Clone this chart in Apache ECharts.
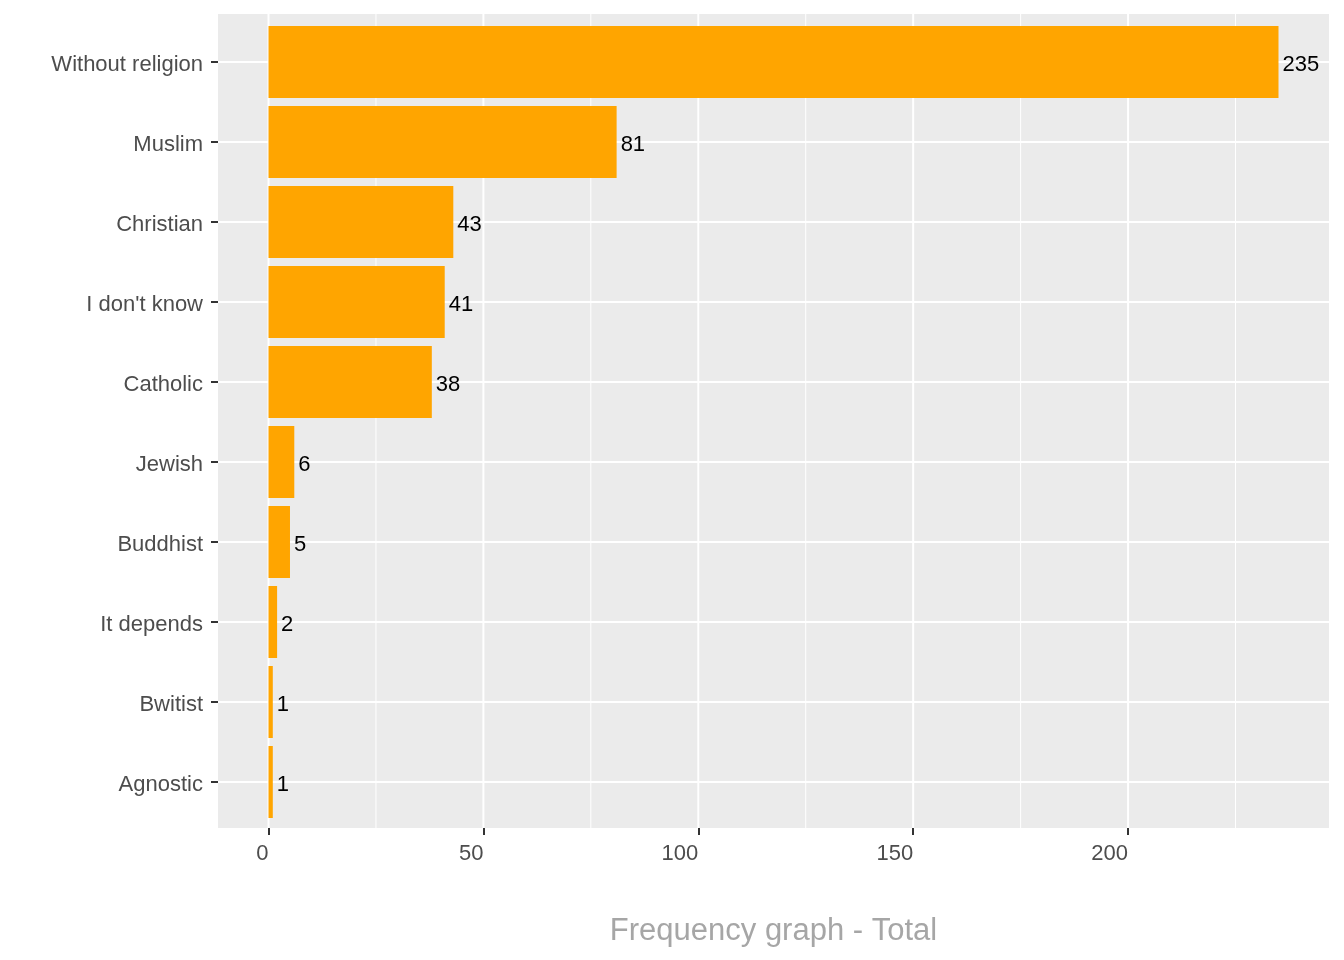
<!DOCTYPE html>
<html><head><meta charset="utf-8">
<script src="https://cdn.jsdelivr.net/npm/echarts@6/dist/echarts.min.js"></script>
<style>html,body{margin:0;padding:0;background:#fff}#c{width:1344px;height:960px}</style>
</head><body><div id="c"></div>
<script>
const categories = ['Without religion', 'Muslim', 'Christian', "I don't know", 'Catholic', 'Jewish', 'Buddhist', 'It depends', 'Bwitist', 'Agnostic'];
const counts = [235, 81, 43, 41, 38, 6, 5, 2, 1, 1];
const majorTicks = [0, 50, 100, 150, 200];
const minorTicks = [25, 75, 125, 175, 225];
const xTitle = 'Frequency graph - Total';

const maxVal = Math.max(...counts);
const xMin = -0.05 * maxVal, xMax = maxVal * 1.05;
const font = '"Liberation Sans", Arial, sans-serif';

const vLines = majorTicks.map(t => ({t, w: 2})).concat(minorTicks.map(t => ({t, w: 1}))).map(o => ({
  type: 'line', xAxisIndex: 0, yAxisIndex: 0, data: [[o.t, 0], [o.t, 1]], symbol: 'none', silent: true, z: 1,
  lineStyle: {color: '#ffffff', width: o.w}, animation: false
}));
const hLines = categories.map(c => ({
  type: 'line', xAxisIndex: 1, yAxisIndex: 1, data: [[xMin, c], [xMax, c]], symbol: 'none', silent: true, z: 1,
  lineStyle: {color: '#ffffff', width: 2}, animation: false
}));

const chart = echarts.init(document.getElementById('c'), null, {renderer: 'canvas'});
chart.setOption({
  animation: false,
  textStyle: {fontFamily: font},
  grid: [
    {left: 218, top: 14, width: 1111, height: 814, show: true, backgroundColor: '#EBEBEB', borderWidth: 0, containLabel: false},
    {left: 218, top: 22, width: 1111, height: 800, show: false, containLabel: false}
  ],
  xAxis: [
    {
      type: 'value', gridIndex: 0, min: xMin, max: xMax,
      axisLine: {show: false, onZero: false},
      axisTick: {show: true, customValues: majorTicks, length: 7, lineStyle: {color: '#333333', width: 2}},
      axisLabel: {customValues: majorTicks, align: 'right', fontSize: 22, color: '#4D4D4D', margin: 15, fontFamily: font},
      splitLine: {show: false},
      name: xTitle, nameLocation: 'middle', nameGap: 88,
      nameTextStyle: {fontSize: 31, color: '#A6A6A6', fontFamily: font}
    },
    {
      type: 'value', gridIndex: 1, min: xMin, max: xMax, show: false,
      splitLine: {show: false}
    }
  ],
  yAxis: [
    {type: 'value', gridIndex: 0, min: 0, max: 1, show: false, splitLine: {show: false}},
    {
      type: 'category', gridIndex: 1, data: categories, inverse: true, z: 6,
      axisLine: {show: false, onZero: false},
      axisTick: {show: true, inside: false, alignWithLabel: true, interval: 0, length: 7, lineStyle: {color: '#333333', width: 2}},
      axisLabel: {
        interval: 0, margin: 15,
        formatter: v => '{a|' + v + '}',
        rich: {a: {fontSize: 22, color: '#4D4D4D', fontFamily: font, padding: [6, 0, 0, 0]}}
      },
      splitLine: {show: false}
    }
  ],
  series: vLines.concat(hLines).concat([{
    type: 'bar', xAxisIndex: 1, yAxisIndex: 1, data: counts, barWidth: 72, z: 3,
    itemStyle: {color: '#FFA500'},
    label: {show: true, position: 'right', distance: 4, offset: [0, 3], color: '#000000', fontSize: 22, fontFamily: font}
  }])
});
</script>
</body></html>
